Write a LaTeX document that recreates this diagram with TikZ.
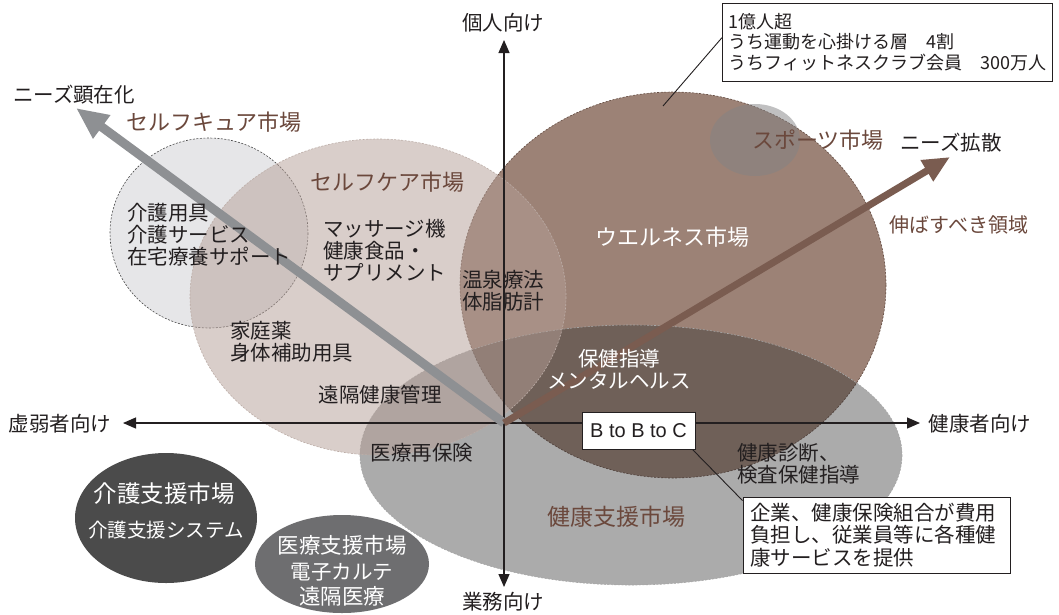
\documentclass[tikz,border=0pt]{standalone}
\usepackage{fontspec}
\setmainfont{Noto Sans CJK JP}
\newfontfamily\latinfont{Liberation Sans}
\usetikzlibrary{arrows.meta,calc}
\newcommand\myfs[2]{\fontsize{#1}{#2}\selectfont}
\definecolor{cureFill}{RGB}{230,230,232}
\definecolor{careFill}{RGB}{181,159,151}
\definecolor{wellFill}{RGB}{156,130,118}
\definecolor{healthFill}{RGB}{45,45,45}
\definecolor{sportFill}{RGB}{131,131,133}
\definecolor{kaigoFill}{RGB}{75,75,75}
\definecolor{iryoFill}{RGB}{110,110,112}
\definecolor{arrowGray}{RGB}{142,144,147}
\definecolor{arrowBrown}{RGB}{122,92,80}
\definecolor{brownText}{RGB}{107,72,60}
\definecolor{ink}{RGB}{35,31,32}
\tikzset{
  txt/.style={font=\myfs{20.5}{22}, text=ink, inner sep=0pt, align=left},
  ctxt/.style={font=\myfs{20.5}{22}, text=ink, inner sep=0pt, align=center},
  title/.style={font=\myfs{22}{24}, text=brownText, inner sep=0pt},
  wtxt/.style={font=\myfs{20.5}{25}, text=white, inner sep=0pt, align=center},
  edge/.style={line width=0.6pt, dash pattern=on 2pt off 1.5pt},
  axis/.style={line width=1.2pt, draw=ink, {Triangle[length=13pt,width=11pt]}-{Triangle[length=13pt,width=11pt]}},
  bigarrow/.style={line width=#1, -{Triangle[length=32pt,width=27pt]}},
  thinline/.style={line width=0.9pt, draw=ink},
  notebox/.style={draw=ink, line width=0.9pt, fill=white, align=left, text=ink}
}
\begin{document}
\begin{tikzpicture}[x=1pt,y=-1pt]
\useasboundingbox (0,0) rectangle (1059,614);
\fill[white] (0,0) rectangle (1059,614);

% market ellipses
\filldraw[fill=cureFill, draw=black!70, edge] (209,233) ellipse [x radius=99, y radius=95];
\filldraw[fill=wellFill, draw=arrowBrown!80!black, edge] (673,285) ellipse [x radius=213, y radius=193];
\fill[healthFill, fill opacity=0.4] (631,455) ellipse [x radius=271, y radius=130];
\draw[edge, draw=black!35] (631,455) ellipse [x radius=271, y radius=130];
\fill[careFill, fill opacity=0.5] (378,297) ellipse [x radius=188, y radius=158];
\draw[edge, draw=brownText!45] (378,297) ellipse [x radius=188, y radius=158];
\fill[sportFill, fill opacity=0.5] (755,140) ellipse [x radius=45, y radius=36];
\fill[kaigoFill] (166,518) ellipse [x radius=91, y radius=65];
\fill[iryoFill] (342,564) ellipse [x radius=87, y radius=49];

% axes
\coordinate (O) at (504,423);
\coordinate (ytop) at (504,40);
\coordinate (ybot) at (504,587);
\coordinate (xleft) at (123,423);
\coordinate (xright) at (920,423);
\draw[axis] (ytop) -- (ybot);
\draw[axis] (xleft) -- (xright);

% need arrows
\coordinate (grayTip) at (76,108);
\coordinate (brownTip) at (950,157);
\draw[bigarrow=9pt, draw=arrowGray, fill=arrowGray] (O) -- (grayTip);
\draw[line width=7pt, draw=arrowBrown, -{Triangle[length=27pt,width=23pt]}] (O) -- (brownTip);

% axis labels
\node[ctxt] (lTop) at (503,23) {個人向け};
\node[ctxt] (lBot) at (503,602) {業務向け};
\node[ctxt] (lLeft) at (60,424) {虚弱者向け};
\node[ctxt] (lRight) at (980,424) {健康者向け};
\node[ctxt] (lKenzai) at (74,95) {ニーズ顕在化};
\node[ctxt] (lKakusan) at (951,143) {ニーズ拡散};

% titles
\node[title] (tCure) at (214,122) {セルフキュア市場};
\node[title] (tCare) at (387,182) {セルフケア市場};
\node[title] (tSport) at (818,140) {スポーツ市場};
\node[title, text=white] (tWell) at (672,237) {ウエルネス市場};
\node[title, font=\myfs{23}{25}] (tHealth) at (616,517) {健康支援市場};
\node[title, font=\myfs{20}{22}] (tNobasu) at (959,225) {伸ばすべき領域};

% contents
\node[txt, anchor=west] (cCure) at (127,235) {介護用具\\介護サービス\\在宅療養サポート};
\node[txt, anchor=west] (cCare) at (323,250) {マッサージ機\\健康食品・\\サプリメント};
\node[txt, anchor=west] (cOnsen) at (462,291) {温泉療法\\体脂肪計};
\node[txt, anchor=west] (cKatei) at (230,342) {家庭薬\\身体補助用具};
\node[txt] (cEnkaku) at (380,395) {遠隔健康管理};
\node[txt] (cSaihoken) at (422,453) {医療再保険};
\node[wtxt, font=\myfs{20.5}{22}] (cHoken) at (619,369) {保健指導\\メンタルヘルス};
\node[txt, anchor=west] (cShindan) at (737,464) {健康診断、\\検査保健指導};

% dark ellipses text
\node[wtxt, font=\myfs{23.5}{25}] (kaigo1) at (164,494) {介護支援市場};
\node[wtxt, font=\myfs{19.5}{21}] (kaigo2) at (166,530) {介護支援システム};
\node[wtxt, font=\myfs{21.5}{25.5}] (iryo) at (342,571) {医療支援市場\\\myfs{20.5}{25.5}電子カルテ\\遠隔医療};

% boxes
\node[notebox, font=\myfs{18}{20.5}, text width=318pt, inner xsep=6pt, minimum height=78pt] (topbox) at (887.5,42) {1億人超\\うち運動を心掛ける層　4割\\うちフィットネスクラブ会員　300万人};
\coordinate (wellPt) at (663,106);
\draw[thinline] (wellPt) -- ([yshift=-35pt]topbox.north west);

\node[notebox, font=\latinfont\myfs{20}{22}, minimum width=113pt, minimum height=37pt, inner sep=0pt] (bbc) at (638.5,430.5) {B to B to C};
\node[notebox, font=\myfs{20.5}{22.5}, text width=253pt, inner xsep=7pt, minimum height=76pt] (note) at (876.5,535) {企業、健康保険組合が費用\\負担し、従業員等に各種健\\康サービスを提供};
\draw[thinline] ([xshift=-3pt]bbc.south east) -- ([yshift=-4pt]note.north west);
\end{tikzpicture}
\end{document}
